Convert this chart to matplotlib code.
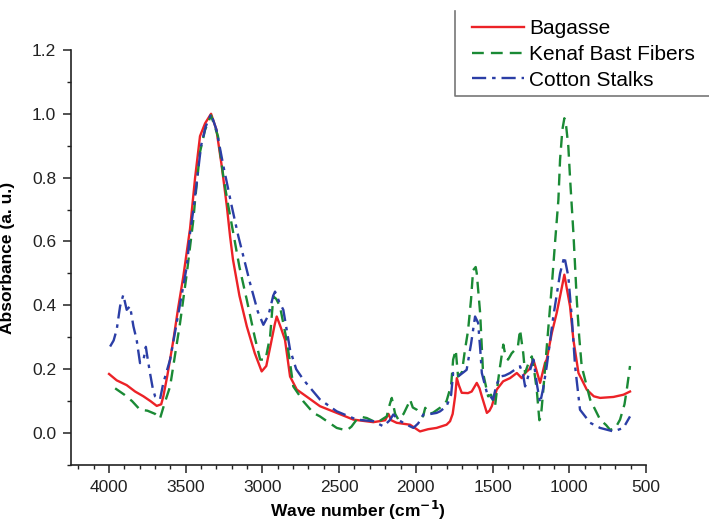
import matplotlib
matplotlib.use("Agg")
import matplotlib.pyplot as plt
from matplotlib.ticker import MultipleLocator
from matplotlib.lines import Line2D

plt.rcParams["font.family"] = ["Liberation Sans", "DejaVu Sans"]

# Bagasse
bag_wn = [4000, 3950, 3885, 3830, 3776, 3730, 3689, 3660, 3646, 3620, 3581, 3550, 3516, 3472,
          3439, 3407, 3374, 3335, 3300, 3265, 3232, 3211, 3192, 3150, 3102, 3050, 3005, 2975,
          2945, 2920, 2907, 2880, 2853, 2820, 2776, 2700, 2625, 2500, 2407, 2277, 2200, 2179,
          2160, 2125, 2038, 1973, 1920, 1865, 1800, 1777, 1760, 1744, 1733, 1720, 1701, 1660,
          1636, 1603, 1585, 1570, 1537, 1520, 1505, 1473, 1431, 1386, 1342, 1310, 1288, 1260,
          1234, 1210, 1190, 1158, 1147, 1114, 1082, 1055, 1032, 1015, 995, 973, 940, 886, 840,
          799, 712, 647, 604]
bag_abs = [0.185, 0.165, 0.15, 0.13, 0.115, 0.10, 0.085, 0.09, 0.115, 0.18, 0.29, 0.39, 0.49, 0.64,
           0.80, 0.93, 0.97, 1.0, 0.95, 0.835, 0.71, 0.616, 0.543, 0.43, 0.334, 0.25, 0.193, 0.21,
           0.28, 0.34, 0.365, 0.33, 0.292, 0.177, 0.136, 0.11, 0.084, 0.06, 0.042, 0.034, 0.04, 0.06,
           0.04, 0.032, 0.026, 0.005, 0.012, 0.016, 0.026, 0.037, 0.06, 0.115, 0.172, 0.15, 0.126, 0.125,
           0.13, 0.157, 0.14, 0.115, 0.063, 0.07, 0.084, 0.136, 0.162, 0.172, 0.188, 0.172, 0.188, 0.20,
           0.23, 0.19, 0.157, 0.22, 0.23, 0.313, 0.376, 0.44, 0.496, 0.45, 0.397, 0.292, 0.188, 0.136, 0.115,
           0.11, 0.113, 0.12, 0.13]

# Kenaf bast fibers
ken_wn = [3960, 3900, 3850, 3798, 3750, 3700, 3668, 3640, 3602, 3537, 3493, 3450, 3439, 3407,
          3374, 3335, 3290, 3254, 3222, 3190, 3150, 3102, 3050, 3015, 2980, 2950, 2929, 2910,
          2886, 2842, 2820, 2799, 2755, 2733, 2668, 2625, 2516, 2451, 2420, 2386, 2350, 2320,
          2255, 2190, 2170, 2157, 2135, 2114, 2080, 2050, 2038, 2020, 1994, 1970, 1953, 1939,
          1910, 1887, 1840, 1800, 1770, 1757, 1740, 1725, 1700, 1680, 1660, 1640, 1627, 1610,
          1603, 1581, 1562, 1529, 1510, 1484, 1465, 1451, 1430, 1415, 1399, 1375, 1353, 1335,
          1321, 1300, 1288, 1265, 1244, 1230, 1212, 1195, 1185, 1169, 1150, 1114, 1093, 1071,
          1060, 1045, 1032, 1020, 1006, 995, 973, 951, 935, 919, 864, 799, 760, 734, 700, 669,
          640, 625, 604]
ken_abs = [0.14, 0.12, 0.10, 0.073, 0.07, 0.06, 0.045, 0.09, 0.146, 0.345, 0.50, 0.67, 0.73, 0.88,
           0.95, 0.995, 0.93, 0.80, 0.71, 0.626, 0.52, 0.417, 0.30, 0.23, 0.23, 0.303, 0.428, 0.42,
           0.397, 0.29, 0.22, 0.146, 0.115, 0.099, 0.063, 0.052, 0.016, 0.008, 0.02, 0.042, 0.05, 0.047,
           0.032, 0.052, 0.09, 0.11, 0.06, 0.042, 0.06, 0.09, 0.105, 0.08, 0.073, 0.06, 0.052, 0.079,
           0.06, 0.064, 0.08, 0.10, 0.15, 0.23, 0.26, 0.177, 0.19, 0.26, 0.32, 0.42, 0.51, 0.52,
           0.50, 0.376, 0.188, 0.115, 0.12, 0.084, 0.16, 0.209, 0.277, 0.24, 0.23, 0.25, 0.261, 0.27,
           0.324, 0.25, 0.188, 0.22, 0.24, 0.20, 0.136, 0.04, 0.05, 0.136, 0.25, 0.46, 0.595, 0.73,
           0.856, 0.95, 0.986, 0.96, 0.897, 0.80, 0.626, 0.417, 0.30, 0.209, 0.105, 0.042, 0.025, 0.01, 0.015, 0.042,
           0.09, 0.136, 0.21]

# Cotton stalks
cot_wn = [3993, 3970, 3950, 3928, 3907, 3885, 3863, 3841, 3820, 3798, 3775, 3760, 3754, 3733,
          3715, 3700, 3668, 3646, 3602, 3559, 3493, 3472, 3450, 3429, 3400, 3370, 3335, 3300,
          3254, 3200, 3157, 3146, 3081, 3030, 2994, 2960, 2930, 2918, 2890, 2864, 2820, 2780,
          2733, 2625, 2516, 2386, 2277, 2212, 2170, 2147, 2110, 2082, 2038, 2016, 1985, 1951,
          1900, 1865, 1842, 1800, 1770, 1757, 1725, 1690, 1669, 1640, 1614, 1594, 1580, 1570,
          1537, 1497, 1475, 1451, 1420, 1386, 1350, 1321, 1300, 1288, 1260, 1234, 1210, 1190,
          1170, 1147, 1104, 1060, 1032, 1006, 984, 962, 930, 864, 799, 712, 647, 604]
cot_abs = [0.271, 0.29, 0.324, 0.397, 0.433, 0.386, 0.397, 0.334, 0.292, 0.219, 0.23, 0.27, 0.25, 0.188,
           0.14, 0.115, 0.105, 0.157, 0.23, 0.345, 0.522, 0.626, 0.70, 0.783, 0.90, 0.96, 1.0, 0.95,
           0.835, 0.71, 0.616, 0.595, 0.47, 0.38, 0.339, 0.37, 0.43, 0.443, 0.41, 0.386, 0.261, 0.20,
           0.167, 0.105, 0.068, 0.042, 0.037, 0.021, 0.04, 0.058, 0.04, 0.032, 0.021, 0.016, 0.03, 0.058,
           0.06, 0.063, 0.068, 0.084, 0.12, 0.188, 0.177, 0.19, 0.198, 0.28, 0.365, 0.345, 0.26, 0.188,
           0.126, 0.105, 0.15, 0.177, 0.18, 0.188, 0.20, 0.209, 0.18, 0.146, 0.19, 0.23, 0.15, 0.094,
           0.14, 0.209, 0.365, 0.50, 0.553, 0.49, 0.365, 0.209, 0.073, 0.032, 0.016, 0.005, 0.016, 0.052]

fig = plt.figure(figsize=(7.09, 5.23), dpi=100)
ax = fig.add_axes([0.0997, 0.111, 0.8114, 0.7935])

l1, = ax.plot(bag_wn, bag_abs, color="#ec2227", lw=1.7, ls="-")
l2, = ax.plot(ken_wn, ken_abs, color="#1a8a35", lw=1.7, ls=(0, (5, 3)))
l3, = ax.plot(cot_wn, cot_abs, color="#2b3ea6", lw=1.7, ls=(0, (6, 2.5, 1.5, 2.5)))

ax.set_xlim(4250, 500)
ax.set_ylim(-0.1, 1.2)
ax.xaxis.set_major_locator(MultipleLocator(500))
ax.xaxis.set_minor_locator(MultipleLocator(100))
ax.yaxis.set_minor_locator(MultipleLocator(0.1))
ax.set_yticks([0.0, 0.2, 0.4, 0.6, 0.8, 1.0, 1.2])
ax.set_yticklabels(["0.0", "0.2", "0.4", "0.6", "0.8", "1.0", "1.2"])

for s in ["top", "right"]:
    ax.spines[s].set_visible(False)
for s in ["left", "bottom"]:
    ax.spines[s].set_linewidth(1.2)
    ax.spines[s].set_color("#222222")
ax.tick_params(which="major", direction="out", length=5.5, width=1.1, labelsize=12.5, pad=5, colors="#222222")
ax.tick_params(which="minor", direction="out", length=2.8, width=1.0, colors="#222222")

ax.set_xlabel("Wave number (cm$^{\\mathbf{-1}}$)", fontsize=12.5, fontweight="bold")
ax.set_ylabel("Absorbance (a. u.)", fontsize=12.5, fontweight="bold")
ax.xaxis.set_label_coords(0.5, -0.083)
ax.yaxis.set_label_coords(-0.097, 0.5)

fig.legend([l1, l2, l3], ["Bagasse", "Kenaf Bast Fibers", "Cotton Stalks"],
           loc="upper left", bbox_to_anchor=(472 / 709, 1 - 19 / 523), frameon=False,
           fontsize=15, handlelength=2.5, handletextpad=0.25, labelspacing=0.33, borderpad=0,
           borderaxespad=0)
# legend box edges (left and bottom visible, rest cut off by the figure edge)
fig.add_artist(Line2D([455 / 709, 455 / 709, 1.0], [1 - 11 / 523, 1 - 96 / 523, 1 - 96 / 523],
                      transform=fig.transFigure, color="#777777", lw=1.2))

fig.savefig("out.png", dpi=100)
